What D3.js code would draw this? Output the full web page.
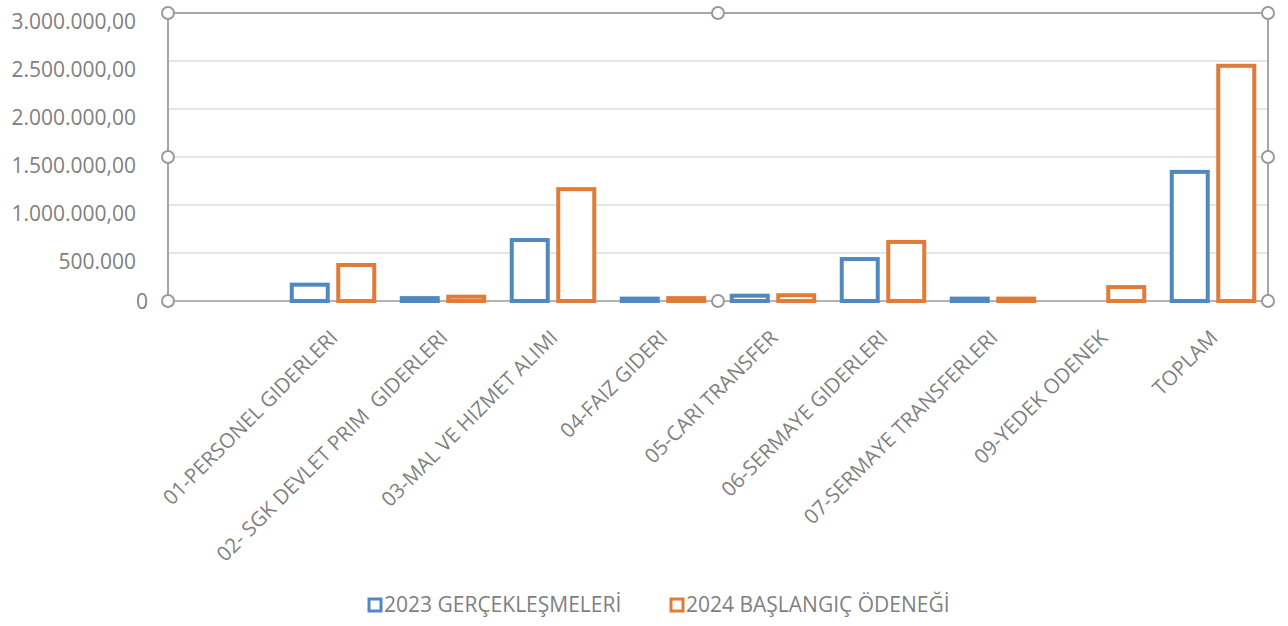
<!DOCTYPE html>
<html>
<head>
<meta charset="utf-8">
<script src="https://cdn.jsdelivr.net/npm/d3@7"></script>
<style>
  body { margin: 0; background: #fff; }
  text { font-family: "Open Sans", sans-serif; fill: #7f7f7f; white-space: pre; }
</style>
</head>
<body>
<div id="chart-area"></div>
<script>
// chart data
const categories = [
  "",
  "01-PERSONEL GIDERLERI",
  "02- SGK DEVLET PRIM  GIDERLERI",
  "03-MAL VE HIZMET ALIMI",
  "04-FAIZ GIDERI",
  "05-CARI TRANSFER",
  "06-SERMAYE GIDERLERI",
  "07-SERMAYE TRANSFERLERI",
  "09-YEDEK ODENEK",
  "TOPLAM"
];
const seriesNames = ["2023 GERÇEKLEŞMELERİ", "2024 BAŞLANGIÇ ÖDENEĞİ"];
const values2023 = [null, 170000, 30000, 635000, 25000, 55000, 437000, 25000, null, 1345000];
const values2024 = [null, 375000, 45000, 1165000, 30000, 60000, 615000, 25000, 145000, 2450000];
const tickValues = [0, 500000, 1000000, 1500000, 2000000, 2500000, 3000000];
const tickLabels = ["0", "500.000", "1.000.000,00", "1.500.000,00", "2.000.000,00", "2.500.000,00", "3.000.000,00"];

const colors = ["#5088c2", "#e27b36"];

let margin = { top: 13, right: 20, bottom: 325, left: 168 },
  width = 1288 - margin.left - margin.right,
  height = 626 - margin.top - margin.bottom;

let svg = d3
  .select("#chart-area")
  .append("svg")
  .attr("width", 1288)
  .attr("height", 626)
  .append("g")
  .attr("transform", "translate(" + margin.left + "," + margin.top + ")");

let x0 = d3.scaleBand().domain(categories).range([0, width]);
let x1 = d3.scaleBand().domain([0, 1]).range([0, x0.bandwidth()])
  .paddingInner(0.226).paddingOuter(0.296);
let y = d3.scaleLinear().domain([0, 3000000]).range([height, 0]);

// gridlines
svg.append("g")
  .selectAll("line")
  .data(tickValues.slice(1, -1))
  .join("line")
  .attr("x1", 0).attr("x2", width)
  .attr("y1", d => y(d)).attr("y2", d => y(d))
  .attr("stroke", "#dcdcdc").attr("stroke-width", 1.3);

// y axis labels
let yAxis = d3.axisLeft(y).tickValues(tickValues)
  .tickFormat((d, i) => tickLabels[i]).tickSize(0).tickPadding(32);
let yAxisGroup = svg.append("g").attr("class", "y-axis").call(yAxis);
yAxisGroup.select(".domain").remove();
yAxisGroup.selectAll("text")
  .style("font-size", "21px")
  .attr("fill", "#878787")
  .attr("dy", d => d === 0 ? "0.35em" : "0.72em")
  .attr("x", d => d === 0 ? -20 : -32);

// x axis line + frame (selected plot area), under the bars
let frame = svg.append("g");
frame.append("line").attr("x1", 0).attr("x2", width).attr("y1", height).attr("y2", height)
  .attr("stroke", "#b4b4b4").attr("stroke-width", 2);
frame.append("line").attr("x1", 0).attr("x2", width).attr("y1", 0).attr("y2", 0)
  .attr("stroke", "#a6a6a6").attr("stroke-width", 2);
frame.append("line").attr("x1", 0).attr("x2", 0).attr("y1", 0).attr("y2", height)
  .attr("stroke", "#a6a6a6").attr("stroke-width", 2);
frame.append("line").attr("x1", width).attr("x2", width).attr("y1", 0).attr("y2", height)
  .attr("stroke", "#a6a6a6").attr("stroke-width", 2);

// bars
let rows = categories.map((c, i) => ({ cat: c, vals: [values2023[i], values2024[i]] }));
let groups = svg.append("g").selectAll("g")
  .data(rows).join("g")
  .attr("transform", d => "translate(" + x0(d.cat) + ",0)");
groups.selectAll("rect")
  .data(d => d.vals.map((v, s) => ({ v, s })).filter(e => e.v != null))
  .join("rect")
  .attr("x", e => x1(e.s))
  .attr("width", x1.bandwidth())
  .attr("y", e => y(e.v))
  .attr("height", e => height - y(e.v))
  .attr("fill", "#fff")
  .attr("stroke", e => colors[e.s])
  .attr("stroke-width", 4);

// selection handles
let handles = [];
[0, 0.5, 1].forEach(fx => [0, 0.5, 1].forEach(fy => {
  if (!(fx === 0.5 && fy === 0.5)) handles.push([fx * width, fy * height]);
}));
svg.append("g").selectAll("circle").data(handles).join("circle")
  .attr("cx", d => d[0]).attr("cy", d => d[1]).attr("r", 6)
  .attr("fill", "#fff").attr("stroke", "#9a9a9a").attr("stroke-width", 2);

// rotated category labels
svg.append("g").selectAll("text")
  .data(categories).join("text")
  .attr("transform", d => "translate(" + (x0(d) + x0.bandwidth() / 2 + 6) + "," + (height + 38) + ") rotate(-45)")
  .attr("text-anchor", "end")
  .style("font-size", "20.5px")
  .text(d => d);

// legend
let legend = svg.append("g").attr("transform", "translate(0," + (605 - margin.top) + ")");
let legendX = [367 - margin.left, 669 - margin.left];
seriesNames.forEach((name, i) => {
  legend.append("rect")
    .attr("x", legendX[i] + 2).attr("y", -6)
    .attr("width", 12).attr("height", 12)
    .attr("fill", "#fff").attr("stroke", colors[i]).attr("stroke-width", 3);
  legend.append("text")
    .attr("x", legendX[i] + 17).attr("y", 0).attr("dy", "0.35em")
    .style("font-size", "21px")
    .text(name);
});
</script>
</body>
</html>
